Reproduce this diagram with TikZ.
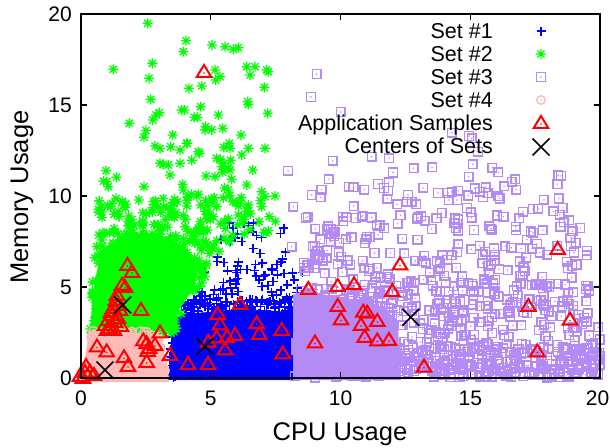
\documentclass[tikz,border=0pt]{standalone}
\usepackage{fontspec}
\setmainfont{Liberation Sans}
\definecolor{cblue}{RGB}{0,0,255}
\definecolor{cgreen}{RGB}{0,255,0}
\definecolor{cpurp}{RGB}{180,138,245}
\definecolor{cpink}{RGB}{255,186,186}
\definecolor{cred}{RGB}{255,0,0}
\tikzset{
  mplus/.style={draw=cblue, line width=1.6pt},
  mstar/.style={draw=cgreen, line width=1.3pt},
  mbox/.style={draw=cpurp, line width=1.5pt},
  mcirc/.style={draw=cpink, line width=1.3pt},
  mtri/.style={draw=cred, line width=2pt, line join=miter},
  mx/.style={draw=black, line width=1.6pt},
  ticklab/.style={inner sep=0pt, font=\fontsize{21}{21}\selectfont},
  leglab/.style={inner sep=0pt, font=\fontsize{21.5}{21.5}\selectfont},
  axlab/.style={inner sep=0pt, font=\fontsize{25.5}{25.5}\selectfont},
}
\newcommand{\mkplus}[2]{\draw[mplus] (#1,#2) +(-4.5,0) -- +(4.5,0) +(0,-4.5) -- +(0,4.5);}
\newcommand{\mkstar}[2]{\draw[mstar] (#1,#2) +(-5,0) -- +(5,0) +(0,-5) -- +(0,5) +(-3.6,-3.6) -- +(3.6,3.6) +(-3.6,3.6) -- +(3.6,-3.6);}
\newcommand{\mkbox}[2]{\draw[mbox] (#1,#2) +(-4.3,-4.3) rectangle +(4.3,4.3); \fill[cpurp] (#1,#2) circle (0.8);}
\newcommand{\mkcirc}[2]{\draw[mcirc] (#1,#2) circle (4.3); \fill[cpink] (#1,#2) circle (0.8);}
\newcommand{\mktri}[2]{\draw[mtri] (#1,#2) +(0,-7) -- +(-7.2,4.8) -- +(7.2,4.8) -- cycle; \fill[cred] (#1,#2) +(0,1) circle (0.9);}
\newcommand{\mkx}[2]{\draw[mx] (#1,#2) +(-8.5,-8.5) -- +(8.5,8.5) +(-8.5,8.5) -- +(8.5,-8.5);}
% random band: marker, N, y0, y1, xl(y0), xr(y0), xl(y1), xr(y1)  (data units)
\newcommand{\band}[8]{%
  \foreach \kk in {1,...,#2}{%
    \pgfmathsetmacro{\myT}{rnd}%
    \pgfmathsetmacro{\myXa}{#5+(#7-#5)*\myT}%
    \pgfmathsetmacro{\myXb}{#6+(#8-#6)*\myT}%
    \pgfmathsetmacro{\myX}{81+25.95*(\myXa+(\myXb-\myXa)*rnd)}%
    \pgfmathsetmacro{\myY}{378-18.2*(#3+(#4-#3)*\myT)}%
    #1{\myX}{\myY}%
  }}
\begin{document}
\begin{tikzpicture}[x=1pt,y=-1pt]
\pgfmathsetseed{4242}
\useasboundingbox (0,0) rectangle (610,447);
\fill[white] (0,0) rectangle (610,447);

% ---------- Set #1 (blue) ----------
\fill[cblue] (168,380) -- (173,318) -- (198,313) -- (237,309) -- (276,311) -- (294,313) -- (301,380) -- cycle;
\band{\mkplus}{40}{0}{3.3}{3.35}{3.75}{3.55}{3.9}
\band{\mkplus}{220}{2.6}{4.3}{3.6}{8.3}{3.9}{8.3}
\band{\mkplus}{60}{4.2}{6}{4.3}{8.6}{4.8}{8.6}
\band{\mkplus}{30}{6}{8.6}{5}{8.2}{5.5}{7.8}

% ---------- Set #2 (green) ----------
\fill[cgreen] (90,331) -- (157,335) -- (170,321) -- (184,303) -- (195,285) -- (198,268) -- (188,250) -- (170,238) -- (145,232) -- (120,236) -- (102,250) -- (95,280) -- (92,305) -- cycle;
\band{\mkstar}{120}{2.4}{4.5}{0.33}{3.6}{0.4}{4.2}
\band{\mkstar}{160}{4.5}{7.5}{0.4}{4.4}{0.55}{5.6}
\band{\mkstar}{110}{7.5}{10}{0.6}{4.8}{0.7}{5.2}
\band{\mkstar}{35}{7.5}{10}{4.5}{7.5}{4.5}{7.6}
\band{\mkstar}{20}{10}{15}{0.8}{6.3}{0.9}{6}
\foreach \gx/\gy in {147.7/23.3,113.3/69.3,152.3/63.3,186/40.7,183.3/51.7,212/45,225/46.7,233.3/49.3,238.3/47.7,149/78.3,215/70,220/76.7,215.7/80,246.7/66.7,255/66.7,250/75,266.7/70,268.3/71.7,189/88.3,201.7/86,264.3/87.3,150.7/99.3,200.7/106.7,181.7/110,184.3/110,194.3/117.3,218.3/115,247.7/101.7,248.3/104.3,267.7/113.3,156/115,129.3/123.3,205/130,222.7/128.3,144/137.3,155/146,172.7/135,170.7/146.7,180/150,187.3/143.3,199.3/153.3,229.3/143.3,230/148.3,241.7/155,248.3/148.3,265/148.3,106/170.7,106.7/181.7,108.3/186.7,160/163.3,168.3/165,170/175,180/163.3,216.7/158.3,221.7/166.7,230/170,252.7/170,246.7/185,206/176,198.3/194.3,144/186.7,241/135,186.7/143.3,198.3/151.7,228.3/168.3,215/176.7,231.7/179.3,228.3/190,261.7/191.7,265/196.7,275/196,196.7/196,183.3/190,240/203.3,248.3/205,216.7/206.7,261.7/206.7,213.3/216.7,238.3/215,269.3/216.7,200/226.7,185/226.7,229.3/241.7}{\mkstar{\gx}{\gy}}

% ---------- Set #3 (purple) ----------
\fill[cpurp] (293,380) -- (293,295) -- (305,290) -- (330,296) -- (360,300) -- (385,308) -- (398,322) -- (400,380) -- cycle;
\band{\mkbox}{160}{0}{5}{8.2}{12.6}{8.3}{11.5}
\band{\mkbox}{260}{0}{1.7}{12}{20}{12}{20}
\band{\mkbox}{220}{1.5}{5.2}{11}{20}{11.5}{20}
\band{\mkbox}{180}{5}{9}{8.4}{19.6}{8.6}{19.4}
\band{\mkbox}{40}{9}{12}{9}{19}{9}{19}
\foreach \sx/\sy in {316.7/74,311/97,340.7/112,451.7/132.7,469/136,471.7/138.3,478/151.7,371.7/156.7,389/158.3,311.7/195,349/186.7,378/184,384/188,408/195,406.7/201.7,411.7/201.7,438/193,448/193,449/200,457/200,467/208,480/191.7,487.7/193,483/197,523/211.7,533/209,343/216.7,361.7/216.7,441.7/213,288/170.7,293.3/206.7,291.7/246.7,315/245.7,330.7/241.7,474/230,491.7/230,516/230}{\mkbox{\sx}{\sy}}

% ---------- Set #4 (pink) ----------
\fill[cpink] (81,382) -- (89,331) -- (125,332) -- (157,335) -- (169,382) -- cycle;
\band{\mkcirc}{40}{2.1}{2.6}{0.4}{2.9}{0.35}{2.9}
\band{\mkcirc}{20}{0}{2.3}{3.0}{3.3}{2.8}{3.0}

% ---------- Application samples ----------
\foreach \ax/\ay in {204/72,127.5/265,132/272,122/285,125/287,117/295,141/310,
  108/320,112/315,115/322,110/328,118/318,105/325,120/310,113/308,116/300,119/305,107/330,114/330,121/326,111/312,
  160/332.5,143.3/340.5,146.7/343.3,149/348,147.7/351,155/345,97/346.5,106.7/351.5,124/357.3,128/366,146.7/362,170/355,188/364,
  86/366,85/372,80/376,90/372,94/375,83/378,
  240/304,217.7/314,220/324.5,256.7/323.3,259.3/334,281.7/330,235/335,227/337,216.7/337.5,208.3/341.7,225/349.5,282.7/353.5,315/342.5,208/364,308.3/289,
  400/264.5,337.7/286,354/284.3,392.3/291,337.7/306,341/319.5,363.3/311.7,367.3/312.7,377.3/321,361/325,364.7/337,377.3/340.5,389/340,424/366.7,
  557.7/249,528.3/306,570/319.7,537.3/351.5}{\mktri{\ax}{\ay}}

% ---------- Centers ----------
\mkx{105}{370}
\mkx{122.7}{305}
\mkx{205}{346.5}
\mkx{410.7}{317.3}

% ---------- Frame and ticks ----------
\foreach \tx in {81,210.75,340.5,470.25,600}{
  \draw[line width=1.2pt] (\tx,378) -- (\tx,372) (\tx,14) -- (\tx,20);}
\foreach \ty in {378,287,196,105,14}{
  \draw[line width=1.2pt] (81,\ty) -- (87,\ty) (600,\ty) -- (594,\ty);}
\draw[line width=1.3pt] (81,14) rectangle (600,378);

% tick labels
\node[ticklab, anchor=base] (xt0) at (81,405) {0};
\node[ticklab, anchor=base] (xt5) at (210.75,405) {5};
\node[ticklab, anchor=base] (xt10) at (340.5,405) {10};
\node[ticklab, anchor=base] (xt15) at (470.25,405) {15};
\node[ticklab, anchor=base] (xt20) at (597.5,405) {20};
\node[ticklab, anchor=base east] (yt0) at (72,385.5) {0};
\node[ticklab, anchor=base east] (yt5) at (72,294.5) {5};
\node[ticklab, anchor=base east] (yt10) at (72,203.5) {10};
\node[ticklab, anchor=base east] (yt15) at (72,112.5) {15};
\node[ticklab, anchor=base east] (yt20) at (72,21.5) {20};

% axis labels
\node[axlab, anchor=base] (xlab) at (340,440) {CPU Usage};
\node[axlab, anchor=base, rotate=90] (ylab) at (28,197) {Memory Usage};

% ---------- Legend ----------
\node[leglab, anchor=base east] (lg1) at (493,38.7) {Set \#1};
\node[leglab, anchor=base east] (lg2) at (493,61.7) {Set \#2};
\node[leglab, anchor=base east] (lg3) at (493,84.7) {Set \#3};
\node[leglab, anchor=base east] (lg4) at (493,107.7) {Set \#4};
\node[leglab, anchor=base east] (lg5) at (493,130.7) {Application Samples};
\node[leglab, anchor=base east] (lg6) at (493,153.7) {Centers of Sets};
\mkplus{541}{31}
\mkstar{541}{54}
\mkbox{541}{77}
\mkcirc{541}{100}
\mktri{541}{123}
\mkx{541}{147}
\end{tikzpicture}
\end{document}
